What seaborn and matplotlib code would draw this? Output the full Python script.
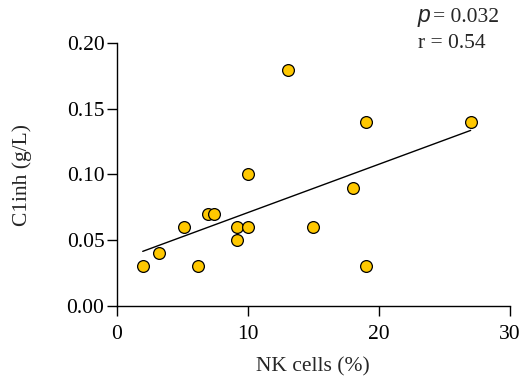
import matplotlib
matplotlib.use("Agg")
import matplotlib.pyplot as plt
import seaborn as sns
import pandas as pd

nk_cells = [2, 3.25, 5.15, 6.2, 6.95, 7.4, 9.2, 9.2, 10, 10, 13.05, 15, 18, 19, 19, 27]
c1inh = [0.03, 0.04, 0.06, 0.03, 0.07, 0.07, 0.06, 0.05, 0.10, 0.06, 0.18, 0.06, 0.09, 0.14, 0.03, 0.14]
x_ticks = [0, 10, 20, 30]
y_ticks = [0.00, 0.05, 0.10, 0.15, 0.20]
y_tick_labels = ["0.00", "0.05", "0.10", "0.15", "0.20"]

df = pd.DataFrame({"NK cells (%)": nk_cells, "C1inh (g/L)": c1inh})

sns.set_style("ticks")
plt.rcParams["font.family"] = ["Liberation Serif", "DejaVu Serif"]

W, H = 523, 383
fig = plt.figure(figsize=(W / 100, H / 100), dpi=100)
ax_l, ax_r, ax_t, ax_b = 116.5, 510, 43.3, 305.7
ax = fig.add_axes([ax_l / W, 1 - ax_b / H, (ax_r - ax_l) / W, (ax_b - ax_t) / H])

sns.regplot(data=df, x="NK cells (%)", y="C1inh (g/L)", ax=ax, ci=None,
            scatter_kws=dict(s=72, color="#FFC800", edgecolor="black", linewidths=0.9, alpha=1, zorder=3),
            line_kws=dict(color="black", linewidth=1.0, zorder=2))

ax.set_xlim(0, 30)
ax.set_ylim(0, 0.20)
ax.set_xticks(x_ticks)
ax.set_yticks(y_ticks)
ax.set_yticklabels(y_tick_labels)
ax.tick_params(axis="both", labelsize=15.5, length=7.2, width=1.0, direction="out", colors="black")
ax.tick_params(axis="x", pad=7)
ax.tick_params(axis="y", pad=1.5)
for s in ["top", "right"]:
    ax.spines[s].set_visible(False)
for s in ["left", "bottom"]:
    ax.spines[s].set_linewidth(1.0)
    ax.spines[s].set_color("black")
ax.set_xlabel("NK cells (%)", fontsize=15.5)
ax.set_ylabel("C1inh (g/L)", fontsize=15.5)
ax.xaxis.set_label_coords(0.5, (ax_b - 357) / (ax_b - ax_t))
ax.yaxis.set_label_coords((32 - ax_l) / (ax_r - ax_l), 0.5)

fig.text(418 / W, 1 - 21.7 / H, "p", fontsize=16.5, family=["Liberation Sans"], style="italic", ha="left", va="baseline")
fig.text(433 / W, 1 - 21.7 / H, "= 0.032", fontsize=15.5, ha="left", va="baseline")
fig.text(418 / W, 1 - 48.3 / H, "r = 0.54", fontsize=15.5, ha="left", va="baseline")

fig.savefig("out.png", dpi=100)
